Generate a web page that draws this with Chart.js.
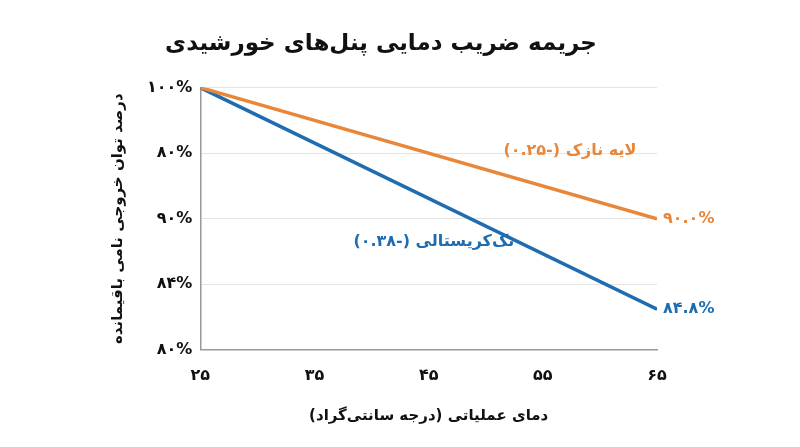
<!DOCTYPE html><html><head><meta charset="utf-8"><script src="https://cdn.jsdelivr.net/npm/chart.js@4"></script>
<style>body{margin:0;background:#fff}#w{width:800px;height:447px}</style></head><body><div id="w"><canvas id="c"></canvas></div><script>
const temps=[25,65];
const thinFilm=[100,90.0];
const mono=[100,83.1];
const xTickLabels={25:'۲۵',35:'۳۵',45:'۴۵',55:'۵۵',65:'۶۵'};
const yTickLabels={100:'۱۰۰%',95:'۸۰%',90:'۹۰%',85:'۸۴%',80:'۸۰%'};
const seriesNames=['لایه نازک (-۰.۲۵)','تک‌کریستالی (-۰.۳۸)'];
const endLabels=['۹۰.۰%','۸۴.۸%'];
const colors=['#E8873A','#1F6DB0'];
const F='"DejaVu Sans", sans-serif';
const labelPlugin={id:'lbl',afterDatasetsDraw(ch){const c=ch.ctx,xs=ch.scales.x,ys=ch.scales.y;c.save();c.font='bold 16px '+F;c.textBaseline='middle';c.direction='rtl';
c.fillStyle=colors[0];c.textAlign='right';c.fillText(seriesNames[0],xs.getPixelForValue(63.2),ys.getPixelForValue(95.2));
c.fillStyle=colors[1];c.fillText(seriesNames[1],xs.getPixelForValue(52.5),ys.getPixelForValue(88.2));
c.direction='ltr';c.textAlign='left';c.fillStyle=colors[0];c.fillText(endLabels[0],xs.getPixelForValue(65)+6,ys.getPixelForValue(thinFilm[1]));
c.fillStyle=colors[1];c.fillText(endLabels[1],xs.getPixelForValue(65)+6,ys.getPixelForValue(mono[1]));c.restore();}};
new Chart(document.getElementById('c'),{type:'line',data:{datasets:[
{data:temps.map((t,i)=>({x:t,y:thinFilm[i]})),borderColor:colors[0],borderWidth:3.5,pointRadius:0},
{data:temps.map((t,i)=>({x:t,y:mono[i]})),borderColor:colors[1],borderWidth:3.5,pointRadius:0}]},
options:{responsive:true,maintainAspectRatio:false,animation:false,layout:{padding:{left:105,right:143,top:5,bottom:18}},
plugins:{legend:{display:false},tooltip:{enabled:false},title:{display:true,text:'جریمه ضریب دمایی پنل‌های خورشیدی',font:{family:F,size:23,weight:'bold'},color:'#111',padding:{top:25,bottom:30}}},
scales:{x:{type:'linear',min:25,max:65,ticks:{stepSize:10,callback:v=>xTickLabels[v]||'',font:{family:F,size:16,weight:'bold'},color:'#111',padding:8},grid:{display:false},border:{color:'#999',width:1.5},
title:{display:true,text:'دمای عملیاتی (درجه سانتی‌گراد)',font:{family:F,size:15,weight:'bold'},color:'#111',padding:{top:14}}},
y:{min:80,max:100,ticks:{stepSize:5,callback:v=>yTickLabels[v]||'',font:{family:F,size:16,weight:'bold'},color:'#111',padding:8},grid:{color:'#e4e4e4',drawTicks:false},border:{color:'#999',width:1.5},
title:{display:true,text:'درصد توان خروجی نامی باقیمانده',font:{family:F,size:15,weight:'bold'},color:'#111',padding:{bottom:12}}}}},plugins:[labelPlugin]});
</script></body></html>
